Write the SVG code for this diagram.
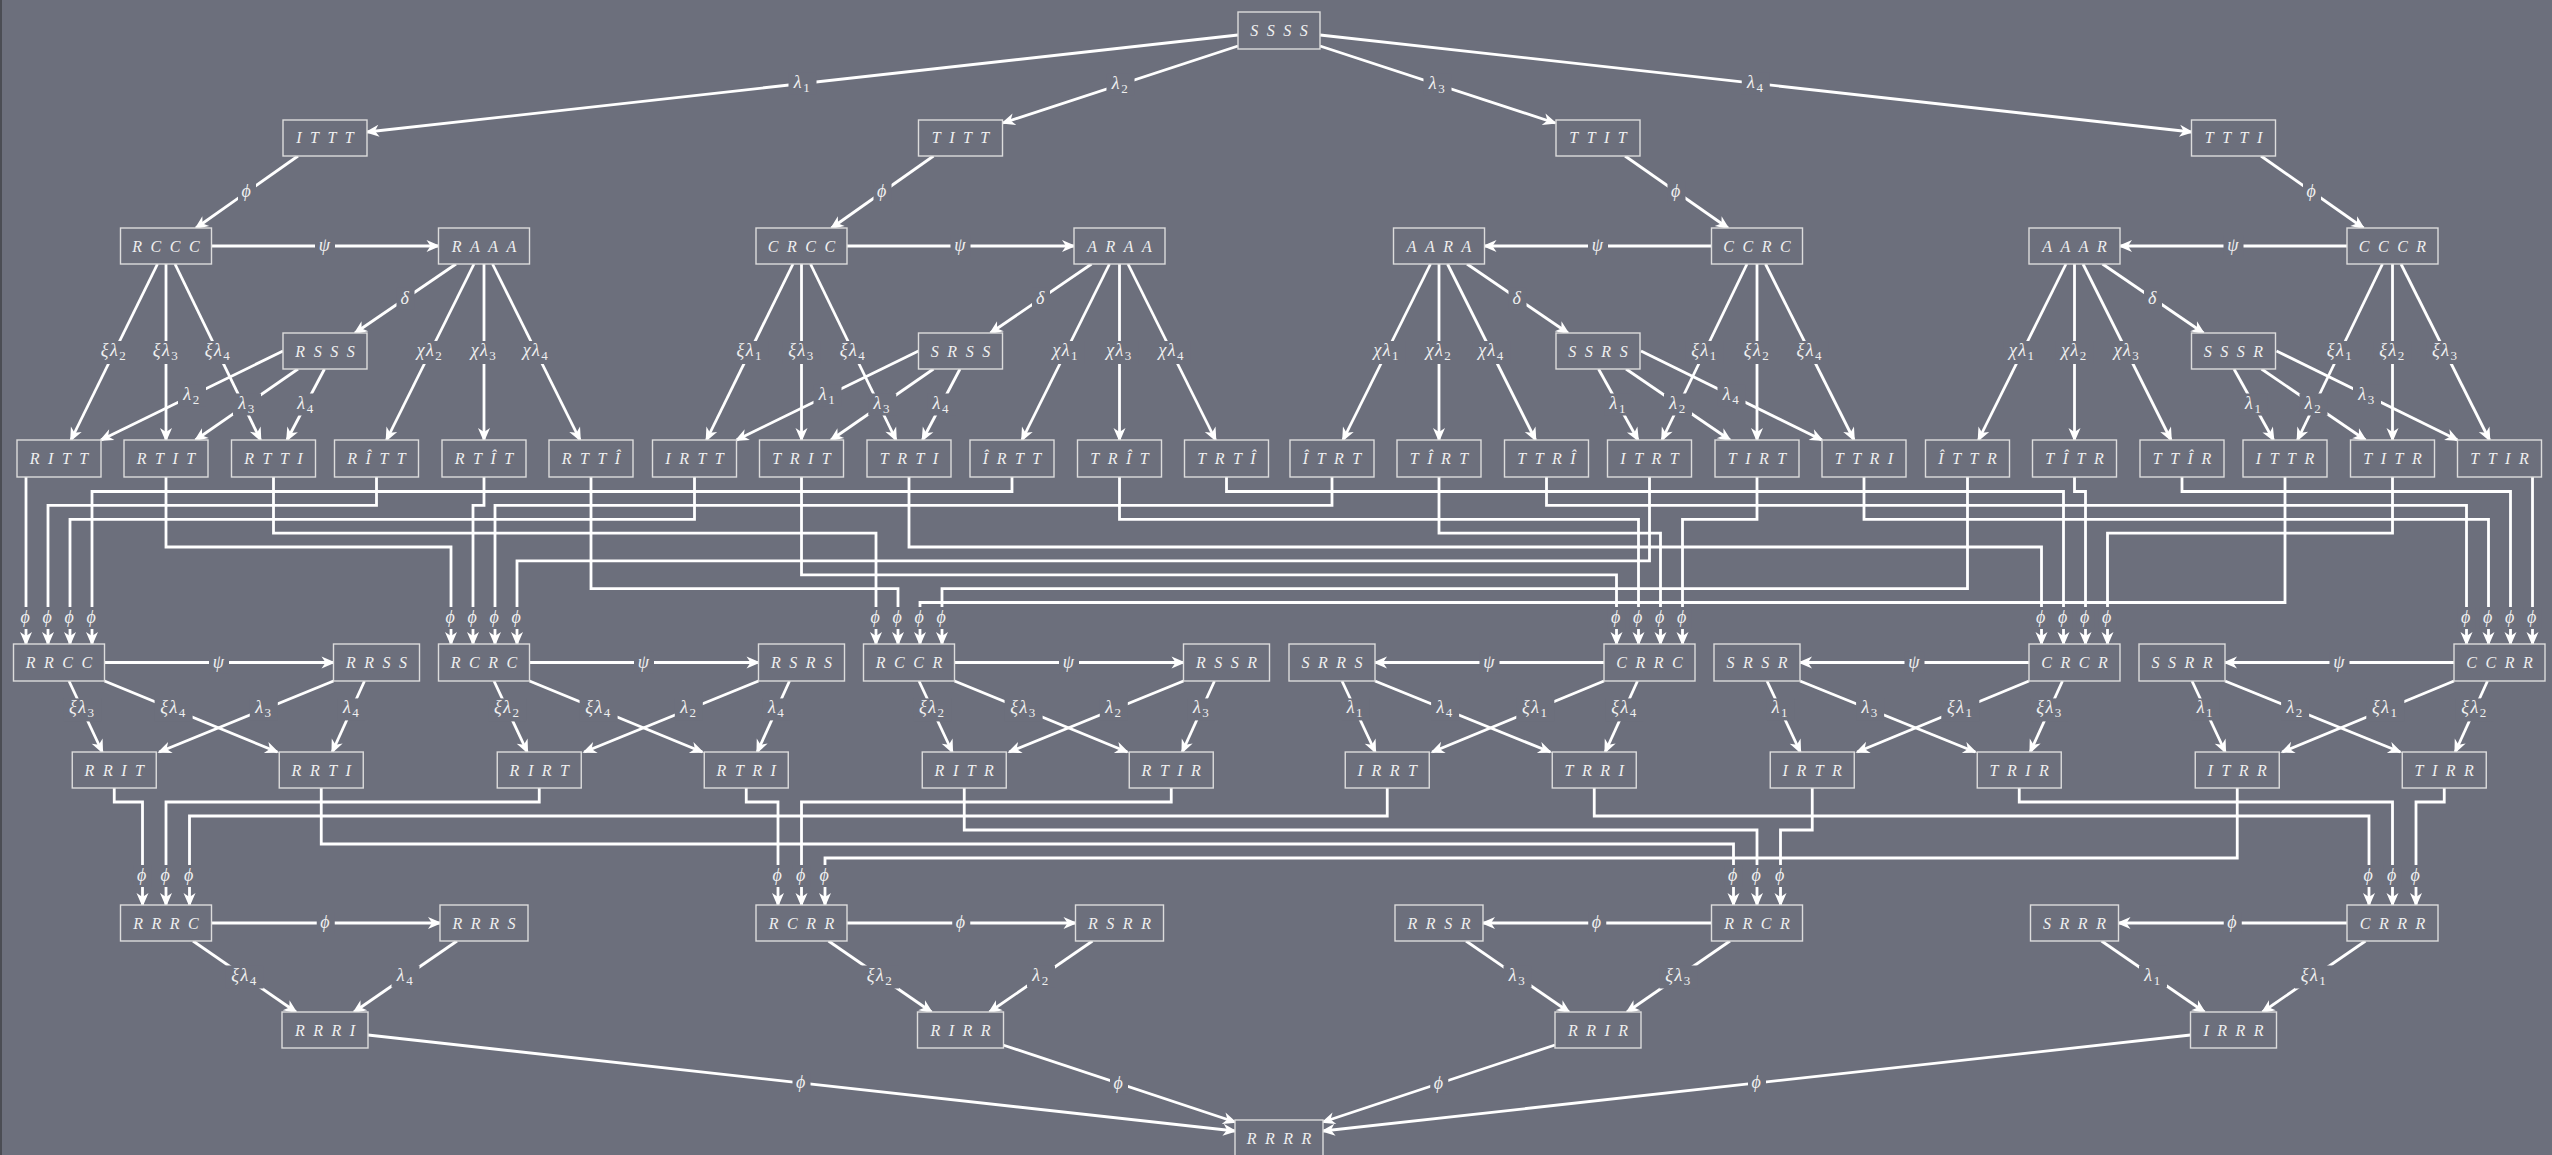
<svg xmlns="http://www.w3.org/2000/svg" width="2552" height="1155" viewBox="0 0 2552 1155">
<defs>
<marker id="a" markerUnits="userSpaceOnUse" markerWidth="18" markerHeight="16" viewBox="-14 -8 18 16" refX="0" refY="0" orient="auto"><path d="M2,0 L-12,-6 L-8,0 L-12,6 Z" fill="#ffffff"/></marker>
<style>
.e{fill:none;stroke:#ffffff;stroke-width:2.8;marker-end:url(#a)}
.nd rect{fill:#6c6f7c;stroke:#dcdcdc;stroke-width:1.4}
.nd text{font-family:"Liberation Serif","DejaVu Serif",serif;font-style:italic;font-size:16px;fill:#f0f0f0;text-anchor:middle;letter-spacing:8.5px}
.lb rect{fill:#6c6f7c}
.lb text{font-family:"Liberation Serif","DejaVu Serif",serif;font-style:italic;font-size:18px;fill:#f0f0f0;text-anchor:middle;letter-spacing:1.5px}
.s{font-style:normal;font-size:13px}
</style>
</defs>
<rect x="0" y="0" width="2552" height="1155" fill="#6c6f7c"/>
<rect x="0" y="0" width="2" height="1155" fill="#4b4d54"/>

<g id="connectors">
<path class="e" d="M1238 35L367 132"/>
<path class="e" d="M1238 46L1003 123"/>
<path class="e" d="M1320 46L1555 123"/>
<path class="e" d="M1320 35L2191.5 132"/>
<path class="e" d="M298 156L196 228"/>
<path class="e" d="M933.5 156L831.5 228"/>
<path class="e" d="M1625 156L1728 228"/>
<path class="e" d="M2261 156L2363.5 228"/>
<path class="e" d="M211.5 246H438.5"/>
<path class="e" d="M847 246H1074"/>
<path class="e" d="M1711.5 246H1484.5"/>
<path class="e" d="M2347 246H2120"/>
<path class="e" d="M456 264L355 333"/>
<path class="e" d="M1091.5 264L990.5 333"/>
<path class="e" d="M1467 264L1568 333"/>
<path class="e" d="M2102.5 264L2203.5 333"/>
<path class="e" d="M157.5 264L71 440"/>
<path class="e" d="M166 264V440"/>
<path class="e" d="M175 264L260.5 440"/>
<path class="e" d="M474 264L386.5 440"/>
<path class="e" d="M484 264V440"/>
<path class="e" d="M492.5 264L580 440"/>
<path class="e" d="M283 351L101 440"/>
<path class="e" d="M298 369L195.5 440"/>
<path class="e" d="M324.5 369L287 440"/>
<path class="e" d="M793 264L706.5 440"/>
<path class="e" d="M801.5 264V440"/>
<path class="e" d="M810.5 264L896 440"/>
<path class="e" d="M1109.5 264L1022 440"/>
<path class="e" d="M1119.5 264V440"/>
<path class="e" d="M1128 264L1215.5 440"/>
<path class="e" d="M918.5 351L736.5 440"/>
<path class="e" d="M933.5 369L831 440"/>
<path class="e" d="M960 369L922.5 440"/>
<path class="e" d="M1430.5 264L1343 440"/>
<path class="e" d="M1439 264V440"/>
<path class="e" d="M1447.5 264L1535.5 440"/>
<path class="e" d="M1747 264L1662 440"/>
<path class="e" d="M1757 264V440"/>
<path class="e" d="M1765.5 264L1854 440"/>
<path class="e" d="M1598.5 369L1638 440"/>
<path class="e" d="M1626 369L1730 440"/>
<path class="e" d="M1641 351L1822 440"/>
<path class="e" d="M2066 264L1978.5 440"/>
<path class="e" d="M2074.5 264V440"/>
<path class="e" d="M2083 264L2171 440"/>
<path class="e" d="M2382.5 264L2297.5 440"/>
<path class="e" d="M2392.5 264V440"/>
<path class="e" d="M2401 264L2489.5 440"/>
<path class="e" d="M2234 369L2273.5 440"/>
<path class="e" d="M2261.5 369L2365.5 440"/>
<path class="e" d="M2276.5 351L2457.5 440"/>
<path class="e" d="M26 477V644"/>
<path class="e" d="M376.5 477V505.4H48V644"/>
<path class="e" d="M694.5 477V519.3H70V644"/>
<path class="e" d="M1012 477V491.5H92V644"/>
<path class="e" d="M166 477V547H451V644"/>
<path class="e" d="M484 477V505.4H473V644"/>
<path class="e" d="M1332 477V505.4H495V644"/>
<path class="e" d="M1649.5 477V560.9H517V644"/>
<path class="e" d="M273.5 477V533.1H876V644"/>
<path class="e" d="M591 477V588.6H898V644"/>
<path class="e" d="M2285 477V602.5H920V644"/>
<path class="e" d="M1967.5 477V588.6H942V644"/>
<path class="e" d="M801.5 477V574.8H1616.5V644"/>
<path class="e" d="M1119.5 477V519.3H1638.5V644"/>
<path class="e" d="M1439 477V533.1H1660.5V644"/>
<path class="e" d="M1757 477V519.3H1682.5V644"/>
<path class="e" d="M909 477V547H2041.5V644"/>
<path class="e" d="M1226.5 477V491.5H2063.5V644"/>
<path class="e" d="M2074.5 477V491.5H2085.5V644"/>
<path class="e" d="M2392.5 477V533.1H2107.5V644"/>
<path class="e" d="M1546.5 477V505.4H2466.5V644"/>
<path class="e" d="M1864 477V519.3H2488.5V644"/>
<path class="e" d="M2182 477V491.5H2510.5V644"/>
<path class="e" d="M2532.5 477V644"/>
<path class="e" d="M104.5 662.5H333.5"/>
<path class="e" d="M529.5 662.5H758.5"/>
<path class="e" d="M954.5 662.5H1183.5"/>
<path class="e" d="M1604 662.5H1375"/>
<path class="e" d="M2029 662.5H1800"/>
<path class="e" d="M2454 662.5H2225"/>
<path class="e" d="M69 681L102.25 752"/>
<path class="e" d="M104.5 681L277.25 752"/>
<path class="e" d="M333.5 681L159.25 752"/>
<path class="e" d="M364.5 681L332.25 752"/>
<path class="e" d="M494 681L527.25 752"/>
<path class="e" d="M529.5 681L702.25 752"/>
<path class="e" d="M758.5 681L584.25 752"/>
<path class="e" d="M789.5 681L757.25 752"/>
<path class="e" d="M919 681L952.25 752"/>
<path class="e" d="M954.5 681L1127.25 752"/>
<path class="e" d="M1183.5 681L1009.25 752"/>
<path class="e" d="M1214.5 681L1182.25 752"/>
<path class="e" d="M1342 681L1375.25 752"/>
<path class="e" d="M1375 681L1550.25 752"/>
<path class="e" d="M1604 681L1432.25 752"/>
<path class="e" d="M1637.5 681L1605.25 752"/>
<path class="e" d="M1767 681L1800.25 752"/>
<path class="e" d="M1800 681L1975.25 752"/>
<path class="e" d="M2029 681L1857.25 752"/>
<path class="e" d="M2062.5 681L2030.25 752"/>
<path class="e" d="M2192 681L2225.25 752"/>
<path class="e" d="M2225 681L2400.25 752"/>
<path class="e" d="M2454 681L2282.25 752"/>
<path class="e" d="M2487.5 681L2455.25 752"/>
<path class="e" d="M114.25 788V802H142.5V905"/>
<path class="e" d="M539.25 788V802H166V905"/>
<path class="e" d="M1387.25 788V816H189.5V905"/>
<path class="e" d="M746.25 788V802H778V905"/>
<path class="e" d="M1171.25 788V802H801.5V905"/>
<path class="e" d="M2237.25 788V858H825V905"/>
<path class="e" d="M321.25 788V844H1733.5V905"/>
<path class="e" d="M964.25 788V830H1757V905"/>
<path class="e" d="M1812.25 788V830H1780.5V905"/>
<path class="e" d="M1594.25 788V816H2369V905"/>
<path class="e" d="M2019.25 788V802H2392.5V905"/>
<path class="e" d="M2444.25 788V802H2416V905"/>
<path class="e" d="M211.5 923H440"/>
<path class="e" d="M847 923H1075.5"/>
<path class="e" d="M1711.5 923H1483"/>
<path class="e" d="M2347 923H2118.5"/>
<path class="e" d="M193 941L296 1012"/>
<path class="e" d="M457 941L354 1012"/>
<path class="e" d="M828.5 941L931.5 1012"/>
<path class="e" d="M1092.5 941L989.5 1012"/>
<path class="e" d="M1466 941L1569 1012"/>
<path class="e" d="M1730 941L1627 1012"/>
<path class="e" d="M2101.5 941L2204.5 1012"/>
<path class="e" d="M2365.5 941L2262.5 1012"/>
<path class="e" d="M368 1035L1235 1131"/>
<path class="e" d="M1003 1045L1235 1122"/>
<path class="e" d="M1555 1045L1323 1122"/>
<path class="e" d="M2190.5 1035L1323 1131"/>
</g>

<g id="labels">
<g class="lb"><rect x="788.5" y="72.5" width="28" height="22"/><text x="802.5" y="88">λ<tspan class="s" dy="4">1</tspan></text></g>
<g class="lb"><rect x="1106.5" y="73.5" width="28" height="22"/><text x="1120.5" y="89">λ<tspan class="s" dy="4">2</tspan></text></g>
<g class="lb"><rect x="1423.5" y="73.5" width="28" height="22"/><text x="1437.5" y="89">λ<tspan class="s" dy="4">3</tspan></text></g>
<g class="lb"><rect x="1741.75" y="72.5" width="28" height="22"/><text x="1755.75" y="88">λ<tspan class="s" dy="4">4</tspan></text></g>
<g class="lb"><rect x="238" y="181" width="18" height="22"/><text x="247" y="197">ϕ</text></g>
<g class="lb"><rect x="873.5" y="181" width="18" height="22"/><text x="882.5" y="197">ϕ</text></g>
<g class="lb"><rect x="1667.5" y="181" width="18" height="22"/><text x="1676.5" y="197">ϕ</text></g>
<g class="lb"><rect x="2303" y="181" width="18" height="22"/><text x="2312" y="197">ϕ</text></g>
<g class="lb"><rect x="315" y="235" width="20" height="22"/><text x="325" y="251">ψ</text></g>
<g class="lb"><rect x="950.5" y="235" width="20" height="22"/><text x="960.5" y="251">ψ</text></g>
<g class="lb"><rect x="1588" y="235" width="20" height="22"/><text x="1598" y="251">ψ</text></g>
<g class="lb"><rect x="2223.5" y="235" width="20" height="22"/><text x="2233.5" y="251">ψ</text></g>
<g class="lb"><rect x="396.5" y="287.5" width="18" height="22"/><text x="405.5" y="303.5">δ</text></g>
<g class="lb"><rect x="1032" y="287.5" width="18" height="22"/><text x="1041" y="303.5">δ</text></g>
<g class="lb"><rect x="1508.5" y="287.5" width="18" height="22"/><text x="1517.5" y="303.5">δ</text></g>
<g class="lb"><rect x="2144" y="287.5" width="18" height="22"/><text x="2153" y="303.5">δ</text></g>
<g class="lb"><rect x="95" y="341" width="38" height="23"/><text x="114" y="356">ξλ<tspan class="s" dy="4">2</tspan></text></g>
<g class="lb"><rect x="147" y="341" width="38" height="23"/><text x="166" y="356">ξλ<tspan class="s" dy="4">3</tspan></text></g>
<g class="lb"><rect x="199" y="341" width="38" height="23"/><text x="218" y="356">ξλ<tspan class="s" dy="4">4</tspan></text></g>
<g class="lb"><rect x="411" y="341" width="38" height="23"/><text x="430" y="356">χλ<tspan class="s" dy="4">2</tspan></text></g>
<g class="lb"><rect x="465" y="341" width="38" height="23"/><text x="484" y="356">χλ<tspan class="s" dy="4">3</tspan></text></g>
<g class="lb"><rect x="517" y="341" width="38" height="23"/><text x="536" y="356">χλ<tspan class="s" dy="4">4</tspan></text></g>
<g class="lb"><rect x="178" y="384.5" width="28" height="22"/><text x="192" y="399.5">λ<tspan class="s" dy="4">2</tspan></text></g>
<g class="lb"><rect x="233" y="393.5" width="28" height="22"/><text x="247" y="408.5">λ<tspan class="s" dy="4">3</tspan></text></g>
<g class="lb"><rect x="292" y="393.5" width="28" height="22"/><text x="306" y="408.5">λ<tspan class="s" dy="4">4</tspan></text></g>
<g class="lb"><rect x="730.75" y="341" width="38" height="23"/><text x="749.75" y="356">ξλ<tspan class="s" dy="4">1</tspan></text></g>
<g class="lb"><rect x="782.5" y="341" width="38" height="23"/><text x="801.5" y="356">ξλ<tspan class="s" dy="4">3</tspan></text></g>
<g class="lb"><rect x="834" y="341" width="38" height="23"/><text x="853" y="356">ξλ<tspan class="s" dy="4">4</tspan></text></g>
<g class="lb"><rect x="1046.75" y="341" width="38" height="23"/><text x="1065.75" y="356">χλ<tspan class="s" dy="4">1</tspan></text></g>
<g class="lb"><rect x="1100.5" y="341" width="38" height="23"/><text x="1119.5" y="356">χλ<tspan class="s" dy="4">3</tspan></text></g>
<g class="lb"><rect x="1152.75" y="341" width="38" height="23"/><text x="1171.75" y="356">χλ<tspan class="s" dy="4">4</tspan></text></g>
<g class="lb"><rect x="813.5" y="384.5" width="28" height="22"/><text x="827.5" y="399.5">λ<tspan class="s" dy="4">1</tspan></text></g>
<g class="lb"><rect x="868.25" y="393.5" width="28" height="22"/><text x="882.25" y="408.5">λ<tspan class="s" dy="4">3</tspan></text></g>
<g class="lb"><rect x="927.25" y="393.5" width="28" height="22"/><text x="941.25" y="408.5">λ<tspan class="s" dy="4">4</tspan></text></g>
<g class="lb"><rect x="1367.75" y="341" width="38" height="23"/><text x="1386.75" y="356">χλ<tspan class="s" dy="4">1</tspan></text></g>
<g class="lb"><rect x="1420" y="341" width="38" height="23"/><text x="1439" y="356">χλ<tspan class="s" dy="4">2</tspan></text></g>
<g class="lb"><rect x="1472.5" y="341" width="38" height="23"/><text x="1491.5" y="356">χλ<tspan class="s" dy="4">4</tspan></text></g>
<g class="lb"><rect x="1685.5" y="341" width="38" height="23"/><text x="1704.5" y="356">ξλ<tspan class="s" dy="4">1</tspan></text></g>
<g class="lb"><rect x="1738" y="341" width="38" height="23"/><text x="1757" y="356">ξλ<tspan class="s" dy="4">2</tspan></text></g>
<g class="lb"><rect x="1790.75" y="341" width="38" height="23"/><text x="1809.75" y="356">ξλ<tspan class="s" dy="4">4</tspan></text></g>
<g class="lb"><rect x="1604.25" y="393.5" width="28" height="22"/><text x="1618.25" y="408.5">λ<tspan class="s" dy="4">1</tspan></text></g>
<g class="lb"><rect x="1664" y="393.5" width="28" height="22"/><text x="1678" y="408.5">λ<tspan class="s" dy="4">2</tspan></text></g>
<g class="lb"><rect x="1717.5" y="384.5" width="28" height="22"/><text x="1731.5" y="399.5">λ<tspan class="s" dy="4">4</tspan></text></g>
<g class="lb"><rect x="2003.25" y="341" width="38" height="23"/><text x="2022.25" y="356">χλ<tspan class="s" dy="4">1</tspan></text></g>
<g class="lb"><rect x="2055.5" y="341" width="38" height="23"/><text x="2074.5" y="356">χλ<tspan class="s" dy="4">2</tspan></text></g>
<g class="lb"><rect x="2108" y="341" width="38" height="23"/><text x="2127" y="356">χλ<tspan class="s" dy="4">3</tspan></text></g>
<g class="lb"><rect x="2321" y="341" width="38" height="23"/><text x="2340" y="356">ξλ<tspan class="s" dy="4">1</tspan></text></g>
<g class="lb"><rect x="2373.5" y="341" width="38" height="23"/><text x="2392.5" y="356">ξλ<tspan class="s" dy="4">2</tspan></text></g>
<g class="lb"><rect x="2426.25" y="341" width="38" height="23"/><text x="2445.25" y="356">ξλ<tspan class="s" dy="4">3</tspan></text></g>
<g class="lb"><rect x="2239.75" y="393.5" width="28" height="22"/><text x="2253.75" y="408.5">λ<tspan class="s" dy="4">1</tspan></text></g>
<g class="lb"><rect x="2299.5" y="393.5" width="28" height="22"/><text x="2313.5" y="408.5">λ<tspan class="s" dy="4">2</tspan></text></g>
<g class="lb"><rect x="2353" y="384.5" width="28" height="22"/><text x="2367" y="399.5">λ<tspan class="s" dy="4">3</tspan></text></g>
<g class="lb"><rect x="17" y="607" width="18" height="22"/><text x="26" y="623">ϕ</text></g>
<g class="lb"><rect x="39" y="607" width="18" height="22"/><text x="48" y="623">ϕ</text></g>
<g class="lb"><rect x="61" y="607" width="18" height="22"/><text x="70" y="623">ϕ</text></g>
<g class="lb"><rect x="83" y="607" width="18" height="22"/><text x="92" y="623">ϕ</text></g>
<g class="lb"><rect x="442" y="607" width="18" height="22"/><text x="451" y="623">ϕ</text></g>
<g class="lb"><rect x="464" y="607" width="18" height="22"/><text x="473" y="623">ϕ</text></g>
<g class="lb"><rect x="486" y="607" width="18" height="22"/><text x="495" y="623">ϕ</text></g>
<g class="lb"><rect x="508" y="607" width="18" height="22"/><text x="517" y="623">ϕ</text></g>
<g class="lb"><rect x="867" y="607" width="18" height="22"/><text x="876" y="623">ϕ</text></g>
<g class="lb"><rect x="889" y="607" width="18" height="22"/><text x="898" y="623">ϕ</text></g>
<g class="lb"><rect x="911" y="607" width="18" height="22"/><text x="920" y="623">ϕ</text></g>
<g class="lb"><rect x="933" y="607" width="18" height="22"/><text x="942" y="623">ϕ</text></g>
<g class="lb"><rect x="1607.5" y="607" width="18" height="22"/><text x="1616.5" y="623">ϕ</text></g>
<g class="lb"><rect x="1629.5" y="607" width="18" height="22"/><text x="1638.5" y="623">ϕ</text></g>
<g class="lb"><rect x="1651.5" y="607" width="18" height="22"/><text x="1660.5" y="623">ϕ</text></g>
<g class="lb"><rect x="1673.5" y="607" width="18" height="22"/><text x="1682.5" y="623">ϕ</text></g>
<g class="lb"><rect x="2032.5" y="607" width="18" height="22"/><text x="2041.5" y="623">ϕ</text></g>
<g class="lb"><rect x="2054.5" y="607" width="18" height="22"/><text x="2063.5" y="623">ϕ</text></g>
<g class="lb"><rect x="2076.5" y="607" width="18" height="22"/><text x="2085.5" y="623">ϕ</text></g>
<g class="lb"><rect x="2098.5" y="607" width="18" height="22"/><text x="2107.5" y="623">ϕ</text></g>
<g class="lb"><rect x="2457.5" y="607" width="18" height="22"/><text x="2466.5" y="623">ϕ</text></g>
<g class="lb"><rect x="2479.5" y="607" width="18" height="22"/><text x="2488.5" y="623">ϕ</text></g>
<g class="lb"><rect x="2501.5" y="607" width="18" height="22"/><text x="2510.5" y="623">ϕ</text></g>
<g class="lb"><rect x="2523.5" y="607" width="18" height="22"/><text x="2532.5" y="623">ϕ</text></g>
<g class="lb"><rect x="209" y="651.5" width="20" height="22"/><text x="219" y="667.5">ψ</text></g>
<g class="lb"><rect x="634" y="651.5" width="20" height="22"/><text x="644" y="667.5">ψ</text></g>
<g class="lb"><rect x="1059" y="651.5" width="20" height="22"/><text x="1069" y="667.5">ψ</text></g>
<g class="lb"><rect x="1479.5" y="651.5" width="20" height="22"/><text x="1489.5" y="667.5">ψ</text></g>
<g class="lb"><rect x="1904.5" y="651.5" width="20" height="22"/><text x="1914.5" y="667.5">ψ</text></g>
<g class="lb"><rect x="2329.5" y="651.5" width="20" height="22"/><text x="2339.5" y="667.5">ψ</text></g>
<g class="lb"><rect x="63.3" y="698.4" width="38" height="23"/><text x="82.3" y="713.4">ξλ<tspan class="s" dy="4">3</tspan></text></g>
<g class="lb"><rect x="154.6" y="698.4" width="38" height="23"/><text x="173.6" y="713.4">ξλ<tspan class="s" dy="4">4</tspan></text></g>
<g class="lb"><rect x="249.8" y="698.4" width="28" height="22"/><text x="263.8" y="713.4">λ<tspan class="s" dy="4">3</tspan></text></g>
<g class="lb"><rect x="337.6" y="698.4" width="28" height="22"/><text x="351.6" y="713.4">λ<tspan class="s" dy="4">4</tspan></text></g>
<g class="lb"><rect x="488.3" y="698.4" width="38" height="23"/><text x="507.3" y="713.4">ξλ<tspan class="s" dy="4">2</tspan></text></g>
<g class="lb"><rect x="579.6" y="698.4" width="38" height="23"/><text x="598.6" y="713.4">ξλ<tspan class="s" dy="4">4</tspan></text></g>
<g class="lb"><rect x="674.8" y="698.4" width="28" height="22"/><text x="688.8" y="713.4">λ<tspan class="s" dy="4">2</tspan></text></g>
<g class="lb"><rect x="762.6" y="698.4" width="28" height="22"/><text x="776.6" y="713.4">λ<tspan class="s" dy="4">4</tspan></text></g>
<g class="lb"><rect x="913.3" y="698.4" width="38" height="23"/><text x="932.3" y="713.4">ξλ<tspan class="s" dy="4">2</tspan></text></g>
<g class="lb"><rect x="1004.6" y="698.4" width="38" height="23"/><text x="1023.6" y="713.4">ξλ<tspan class="s" dy="4">3</tspan></text></g>
<g class="lb"><rect x="1099.8" y="698.4" width="28" height="22"/><text x="1113.8" y="713.4">λ<tspan class="s" dy="4">2</tspan></text></g>
<g class="lb"><rect x="1187.6" y="698.4" width="28" height="22"/><text x="1201.6" y="713.4">λ<tspan class="s" dy="4">3</tspan></text></g>
<g class="lb"><rect x="1341.3" y="698.4" width="28" height="22"/><text x="1355.3" y="713.4">λ<tspan class="s" dy="4">1</tspan></text></g>
<g class="lb"><rect x="1431.1" y="698.4" width="28" height="22"/><text x="1445.1" y="713.4">λ<tspan class="s" dy="4">4</tspan></text></g>
<g class="lb"><rect x="1516.3" y="698.4" width="38" height="23"/><text x="1535.3" y="713.4">ξλ<tspan class="s" dy="4">1</tspan></text></g>
<g class="lb"><rect x="1605.6" y="698.4" width="38" height="23"/><text x="1624.6" y="713.4">ξλ<tspan class="s" dy="4">4</tspan></text></g>
<g class="lb"><rect x="1766.3" y="698.4" width="28" height="22"/><text x="1780.3" y="713.4">λ<tspan class="s" dy="4">1</tspan></text></g>
<g class="lb"><rect x="1856.1" y="698.4" width="28" height="22"/><text x="1870.1" y="713.4">λ<tspan class="s" dy="4">3</tspan></text></g>
<g class="lb"><rect x="1941.3" y="698.4" width="38" height="23"/><text x="1960.3" y="713.4">ξλ<tspan class="s" dy="4">1</tspan></text></g>
<g class="lb"><rect x="2030.6" y="698.4" width="38" height="23"/><text x="2049.6" y="713.4">ξλ<tspan class="s" dy="4">3</tspan></text></g>
<g class="lb"><rect x="2191.3" y="698.4" width="28" height="22"/><text x="2205.3" y="713.4">λ<tspan class="s" dy="4">1</tspan></text></g>
<g class="lb"><rect x="2281.1" y="698.4" width="28" height="22"/><text x="2295.1" y="713.4">λ<tspan class="s" dy="4">2</tspan></text></g>
<g class="lb"><rect x="2366.3" y="698.4" width="38" height="23"/><text x="2385.3" y="713.4">ξλ<tspan class="s" dy="4">1</tspan></text></g>
<g class="lb"><rect x="2455.6" y="698.4" width="38" height="23"/><text x="2474.6" y="713.4">ξλ<tspan class="s" dy="4">2</tspan></text></g>
<g class="lb"><rect x="133.5" y="865" width="18" height="22"/><text x="142.5" y="881">ϕ</text></g>
<g class="lb"><rect x="157" y="865" width="18" height="22"/><text x="166" y="881">ϕ</text></g>
<g class="lb"><rect x="180.5" y="865" width="18" height="22"/><text x="189.5" y="881">ϕ</text></g>
<g class="lb"><rect x="769" y="865" width="18" height="22"/><text x="778" y="881">ϕ</text></g>
<g class="lb"><rect x="792.5" y="865" width="18" height="22"/><text x="801.5" y="881">ϕ</text></g>
<g class="lb"><rect x="816" y="865" width="18" height="22"/><text x="825" y="881">ϕ</text></g>
<g class="lb"><rect x="1724.5" y="865" width="18" height="22"/><text x="1733.5" y="881">ϕ</text></g>
<g class="lb"><rect x="1748" y="865" width="18" height="22"/><text x="1757" y="881">ϕ</text></g>
<g class="lb"><rect x="1771.5" y="865" width="18" height="22"/><text x="1780.5" y="881">ϕ</text></g>
<g class="lb"><rect x="2360" y="865" width="18" height="22"/><text x="2369" y="881">ϕ</text></g>
<g class="lb"><rect x="2383.5" y="865" width="18" height="22"/><text x="2392.5" y="881">ϕ</text></g>
<g class="lb"><rect x="2407" y="865" width="18" height="22"/><text x="2416" y="881">ϕ</text></g>
<g class="lb"><rect x="316.75" y="912" width="18" height="22"/><text x="325.75" y="928">ϕ</text></g>
<g class="lb"><rect x="952.25" y="912" width="18" height="22"/><text x="961.25" y="928">ϕ</text></g>
<g class="lb"><rect x="1588.25" y="912" width="18" height="22"/><text x="1597.25" y="928">ϕ</text></g>
<g class="lb"><rect x="2223.75" y="912" width="18" height="22"/><text x="2232.75" y="928">ϕ</text></g>
<g class="lb"><rect x="225.5" y="965.5" width="38" height="23"/><text x="244.5" y="980.5">ξλ<tspan class="s" dy="4">4</tspan></text></g>
<g class="lb"><rect x="391.5" y="965.5" width="28" height="22"/><text x="405.5" y="980.5">λ<tspan class="s" dy="4">4</tspan></text></g>
<g class="lb"><rect x="861" y="965.5" width="38" height="23"/><text x="880" y="980.5">ξλ<tspan class="s" dy="4">2</tspan></text></g>
<g class="lb"><rect x="1027" y="965.5" width="28" height="22"/><text x="1041" y="980.5">λ<tspan class="s" dy="4">2</tspan></text></g>
<g class="lb"><rect x="1503.5" y="965.5" width="28" height="22"/><text x="1517.5" y="980.5">λ<tspan class="s" dy="4">3</tspan></text></g>
<g class="lb"><rect x="1659.5" y="965.5" width="38" height="23"/><text x="1678.5" y="980.5">ξλ<tspan class="s" dy="4">3</tspan></text></g>
<g class="lb"><rect x="2139" y="965.5" width="28" height="22"/><text x="2153" y="980.5">λ<tspan class="s" dy="4">1</tspan></text></g>
<g class="lb"><rect x="2295" y="965.5" width="38" height="23"/><text x="2314" y="980.5">ξλ<tspan class="s" dy="4">1</tspan></text></g>
<g class="lb"><rect x="792.5" y="1072" width="18" height="22"/><text x="801.5" y="1088">ϕ</text></g>
<g class="lb"><rect x="1110" y="1072.5" width="18" height="22"/><text x="1119" y="1088.5">ϕ</text></g>
<g class="lb"><rect x="1430.25" y="1072.5" width="18" height="22"/><text x="1439.25" y="1088.5">ϕ</text></g>
<g class="lb"><rect x="1748" y="1072" width="18" height="22"/><text x="1757" y="1088">ϕ</text></g>
</g>

<g id="nodes">
<g id="n-SSSS" class="nd"><rect x="1238" y="12" width="82" height="37"/><text x="1283.25" y="36">SSSS</text></g>
<g id="n-ITTT" class="nd"><rect x="283" y="120" width="84" height="36"/><text x="329.25" y="143">ITTT</text></g>
<g id="n-TITT" class="nd"><rect x="918.5" y="120" width="84" height="36"/><text x="964.75" y="143">TITT</text></g>
<g id="n-TTIT" class="nd"><rect x="1556" y="120" width="84" height="36"/><text x="1602.25" y="143">TTIT</text></g>
<g id="n-TTTI" class="nd"><rect x="2191.5" y="120" width="84" height="36"/><text x="2237.75" y="143">TTTI</text></g>
<g id="n-RCCC" class="nd"><rect x="120.5" y="228" width="91" height="36"/><text x="170.25" y="251.5">RCCC</text></g>
<g id="n-RAAA" class="nd"><rect x="438.5" y="228" width="91" height="36"/><text x="488.25" y="251.5">RAAA</text></g>
<g id="n-CRCC" class="nd"><rect x="756" y="228" width="91" height="36"/><text x="805.75" y="251.5">CRCC</text></g>
<g id="n-ARAA" class="nd"><rect x="1074" y="228" width="91" height="36"/><text x="1123.75" y="251.5">ARAA</text></g>
<g id="n-AARA" class="nd"><rect x="1393.5" y="228" width="91" height="36"/><text x="1443.25" y="251.5">AARA</text></g>
<g id="n-CCRC" class="nd"><rect x="1711.5" y="228" width="91" height="36"/><text x="1761.25" y="251.5">CCRC</text></g>
<g id="n-AAAR" class="nd"><rect x="2029" y="228" width="91" height="36"/><text x="2078.75" y="251.5">AAAR</text></g>
<g id="n-CCCR" class="nd"><rect x="2347" y="228" width="91" height="36"/><text x="2396.75" y="251.5">CCCR</text></g>
<g id="n-RSSS" class="nd"><rect x="283" y="333" width="84" height="36"/><text x="329.25" y="356.5">RSSS</text></g>
<g id="n-SRSS" class="nd"><rect x="918.5" y="333" width="84" height="36"/><text x="964.75" y="356.5">SRSS</text></g>
<g id="n-SSRS" class="nd"><rect x="1556" y="333" width="84" height="36"/><text x="1602.25" y="356.5">SSRS</text></g>
<g id="n-SSSR" class="nd"><rect x="2191.5" y="333" width="84" height="36"/><text x="2237.75" y="356.5">SSSR</text></g>
<g id="n-RITT" class="nd"><rect x="17" y="440" width="84" height="37"/><text x="63.25" y="464">RITT</text></g>
<g id="n-RTIT" class="nd"><rect x="124" y="440" width="84" height="37"/><text x="170.25" y="464">RTIT</text></g>
<g id="n-RTTI" class="nd"><rect x="231.5" y="440" width="84" height="37"/><text x="277.75" y="464">RTTI</text></g>
<g id="n-RhITT" class="nd"><rect x="334.5" y="440" width="84" height="37"/><text x="380.75" y="464">RÎTT</text></g>
<g id="n-RThIT" class="nd"><rect x="442" y="440" width="84" height="37"/><text x="488.25" y="464">RTÎT</text></g>
<g id="n-RTThI" class="nd"><rect x="549" y="440" width="84" height="37"/><text x="595.25" y="464">RTTÎ</text></g>
<g id="n-IRTT" class="nd"><rect x="652.5" y="440" width="84" height="37"/><text x="698.75" y="464">IRTT</text></g>
<g id="n-TRIT" class="nd"><rect x="759.5" y="440" width="84" height="37"/><text x="805.75" y="464">TRIT</text></g>
<g id="n-TRTI" class="nd"><rect x="867" y="440" width="84" height="37"/><text x="913.25" y="464">TRTI</text></g>
<g id="n-hIRTT" class="nd"><rect x="970" y="440" width="84" height="37"/><text x="1016.25" y="464">ÎRTT</text></g>
<g id="n-TRhIT" class="nd"><rect x="1077.5" y="440" width="84" height="37"/><text x="1123.75" y="464">TRÎT</text></g>
<g id="n-TRThI" class="nd"><rect x="1184.5" y="440" width="84" height="37"/><text x="1230.75" y="464">TRTÎ</text></g>
<g id="n-hITRT" class="nd"><rect x="1290" y="440" width="84" height="37"/><text x="1336.25" y="464">ÎTRT</text></g>
<g id="n-ThIRT" class="nd"><rect x="1397" y="440" width="84" height="37"/><text x="1443.25" y="464">TÎRT</text></g>
<g id="n-TTRhI" class="nd"><rect x="1504.5" y="440" width="84" height="37"/><text x="1550.75" y="464">TTRÎ</text></g>
<g id="n-ITRT" class="nd"><rect x="1607.5" y="440" width="84" height="37"/><text x="1653.75" y="464">ITRT</text></g>
<g id="n-TIRT" class="nd"><rect x="1715" y="440" width="84" height="37"/><text x="1761.25" y="464">TIRT</text></g>
<g id="n-TTRI" class="nd"><rect x="1822" y="440" width="84" height="37"/><text x="1868.25" y="464">TTRI</text></g>
<g id="n-hITTR" class="nd"><rect x="1925.5" y="440" width="84" height="37"/><text x="1971.75" y="464">ÎTTR</text></g>
<g id="n-ThITR" class="nd"><rect x="2032.5" y="440" width="84" height="37"/><text x="2078.75" y="464">TÎTR</text></g>
<g id="n-TThIR" class="nd"><rect x="2140" y="440" width="84" height="37"/><text x="2186.25" y="464">TTÎR</text></g>
<g id="n-ITTR" class="nd"><rect x="2243" y="440" width="84" height="37"/><text x="2289.25" y="464">ITTR</text></g>
<g id="n-TITR" class="nd"><rect x="2350.5" y="440" width="84" height="37"/><text x="2396.75" y="464">TITR</text></g>
<g id="n-TTIR" class="nd"><rect x="2457.5" y="440" width="84" height="37"/><text x="2503.75" y="464">TTIR</text></g>
<g id="n-RRCC" class="nd"><rect x="13.5" y="644" width="91" height="37"/><text x="63.25" y="668">RRCC</text></g>
<g id="n-RRSS" class="nd"><rect x="333.5" y="644" width="86" height="37"/><text x="380.75" y="668">RRSS</text></g>
<g id="n-RCRC" class="nd"><rect x="438.5" y="644" width="91" height="37"/><text x="488.25" y="668">RCRC</text></g>
<g id="n-RSRS" class="nd"><rect x="758.5" y="644" width="86" height="37"/><text x="805.75" y="668">RSRS</text></g>
<g id="n-RCCR" class="nd"><rect x="863.5" y="644" width="91" height="37"/><text x="913.25" y="668">RCCR</text></g>
<g id="n-RSSR" class="nd"><rect x="1183.5" y="644" width="86" height="37"/><text x="1230.75" y="668">RSSR</text></g>
<g id="n-SRRS" class="nd"><rect x="1289" y="644" width="86" height="37"/><text x="1336.25" y="668">SRRS</text></g>
<g id="n-CRRC" class="nd"><rect x="1604" y="644" width="91" height="37"/><text x="1653.75" y="668">CRRC</text></g>
<g id="n-SRSR" class="nd"><rect x="1714" y="644" width="86" height="37"/><text x="1761.25" y="668">SRSR</text></g>
<g id="n-CRCR" class="nd"><rect x="2029" y="644" width="91" height="37"/><text x="2078.75" y="668">CRCR</text></g>
<g id="n-SSRR" class="nd"><rect x="2139" y="644" width="86" height="37"/><text x="2186.25" y="668">SSRR</text></g>
<g id="n-CCRR" class="nd"><rect x="2454" y="644" width="91" height="37"/><text x="2503.75" y="668">CCRR</text></g>
<g id="n-RRIT" class="nd"><rect x="72.25" y="752" width="84" height="36"/><text x="118.5" y="775.5">RRIT</text></g>
<g id="n-RRTI" class="nd"><rect x="279.25" y="752" width="84" height="36"/><text x="325.5" y="775.5">RRTI</text></g>
<g id="n-RIRT" class="nd"><rect x="497.25" y="752" width="84" height="36"/><text x="543.5" y="775.5">RIRT</text></g>
<g id="n-RTRI" class="nd"><rect x="704.25" y="752" width="84" height="36"/><text x="750.5" y="775.5">RTRI</text></g>
<g id="n-RITR" class="nd"><rect x="922.25" y="752" width="84" height="36"/><text x="968.5" y="775.5">RITR</text></g>
<g id="n-RTIR" class="nd"><rect x="1129.25" y="752" width="84" height="36"/><text x="1175.5" y="775.5">RTIR</text></g>
<g id="n-IRRT" class="nd"><rect x="1345.25" y="752" width="84" height="36"/><text x="1391.5" y="775.5">IRRT</text></g>
<g id="n-TRRI" class="nd"><rect x="1552.25" y="752" width="84" height="36"/><text x="1598.5" y="775.5">TRRI</text></g>
<g id="n-IRTR" class="nd"><rect x="1770.25" y="752" width="84" height="36"/><text x="1816.5" y="775.5">IRTR</text></g>
<g id="n-TRIR" class="nd"><rect x="1977.25" y="752" width="84" height="36"/><text x="2023.5" y="775.5">TRIR</text></g>
<g id="n-ITRR" class="nd"><rect x="2195.25" y="752" width="84" height="36"/><text x="2241.5" y="775.5">ITRR</text></g>
<g id="n-TIRR" class="nd"><rect x="2402.25" y="752" width="84" height="36"/><text x="2448.5" y="775.5">TIRR</text></g>
<g id="n-RRRC" class="nd"><rect x="120.5" y="905" width="91" height="36"/><text x="170.25" y="928.5">RRRC</text></g>
<g id="n-RRRS" class="nd"><rect x="440" y="905" width="88" height="36"/><text x="488.25" y="928.5">RRRS</text></g>
<g id="n-RCRR" class="nd"><rect x="756" y="905" width="91" height="36"/><text x="805.75" y="928.5">RCRR</text></g>
<g id="n-RSRR" class="nd"><rect x="1075.5" y="905" width="88" height="36"/><text x="1123.75" y="928.5">RSRR</text></g>
<g id="n-RRSR" class="nd"><rect x="1395" y="905" width="88" height="36"/><text x="1443.25" y="928.5">RRSR</text></g>
<g id="n-RRCR" class="nd"><rect x="1711.5" y="905" width="91" height="36"/><text x="1761.25" y="928.5">RRCR</text></g>
<g id="n-SRRR" class="nd"><rect x="2030.5" y="905" width="88" height="36"/><text x="2078.75" y="928.5">SRRR</text></g>
<g id="n-CRRR" class="nd"><rect x="2347" y="905" width="91" height="36"/><text x="2396.75" y="928.5">CRRR</text></g>
<g id="n-RRRI" class="nd"><rect x="282" y="1012" width="86" height="36"/><text x="329.25" y="1035.5">RRRI</text></g>
<g id="n-RIRR" class="nd"><rect x="917.5" y="1012" width="86" height="36"/><text x="964.75" y="1035.5">RIRR</text></g>
<g id="n-RRIR" class="nd"><rect x="1555" y="1012" width="86" height="36"/><text x="1602.25" y="1035.5">RRIR</text></g>
<g id="n-IRRR" class="nd"><rect x="2190.5" y="1012" width="86" height="36"/><text x="2237.75" y="1035.5">IRRR</text></g>
<g id="n-RRRR" class="nd"><rect x="1235" y="1120" width="88" height="36"/><text x="1283.25" y="1143.5">RRRR</text></g>
</g>
</svg>
